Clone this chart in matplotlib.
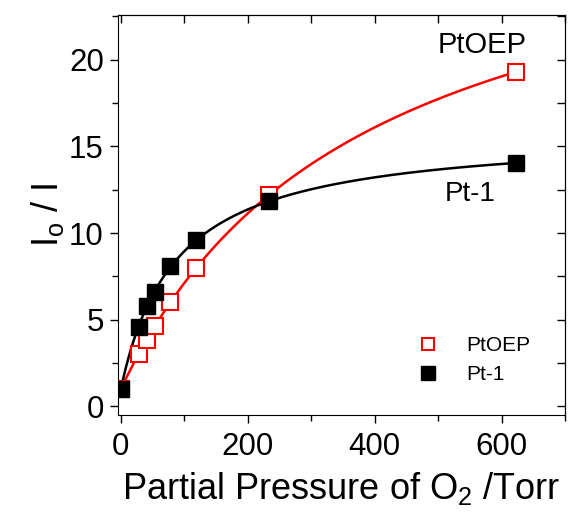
import numpy as np
import matplotlib

matplotlib.use("Agg")
import matplotlib.pyplot as plt
from matplotlib.ticker import MultipleLocator

plt.rcParams["font.family"] = ["Liberation Sans", "DejaVu Sans"]
plt.rcParams["mathtext.fontset"] = "custom"
plt.rcParams["mathtext.rm"] = "Liberation Sans"
plt.rcParams["mathtext.it"] = "Liberation Sans"

pressure = [0, 28, 41, 54, 77, 118, 234, 622]
ptoep = [1.0, 3.0, 3.85, 4.62, 6.02, 7.98, 12.18, 19.29]
pt1 = [1.0, 4.58, 5.79, 6.6, 8.08, 9.58, 11.85, 14.04]


def langmuir_fit(x, y):
    # y - 1 = a x / (1 + b x)  ->  x / (y - 1) = 1/a + (b/a) x
    x = np.asarray(x[1:], float)
    y = np.asarray(y[1:], float)
    slope, icpt = np.polyfit(x, x / (y - 1), 1)
    a, b = 1 / icpt, slope / icpt
    xs = np.linspace(0, max(x), 300)
    return xs, 1 + a * xs / (1 + b * xs)


fig = plt.figure(figsize=(5.68, 5.16), dpi=100)
ax = fig.add_axes([0.2072, 0.1957, 0.7875, 0.7758])

xs, ys = langmuir_fit(pressure, ptoep)
ax.plot(xs, ys, color="red", lw=1.8, zorder=2)
xs, ys = langmuir_fit(pressure, pt1)
ax.plot(xs, ys, color="black", lw=1.8, zorder=2)

ax.plot(pressure, ptoep, ls="none", marker="s", ms=11, mfc="white",
        mec="red", mew=1.5, label="PtOEP", zorder=3)
ax.plot(pressure, pt1, ls="none", marker="s", ms=12, color="black",
        label="Pt-1", zorder=4)

ax.set_xlim(-5, 700)
ax.set_ylim(-0.5, 22.6)
ax.xaxis.set_major_locator(MultipleLocator(200))
ax.xaxis.set_minor_locator(MultipleLocator(100))
ax.yaxis.set_major_locator(MultipleLocator(5))
ax.yaxis.set_minor_locator(MultipleLocator(2.5))
ax.tick_params(which="both", direction="out", labelsize=22.5, width=1, pad=4)
ax.tick_params(axis="x", which="both", pad=6)
ax.tick_params(which="major", length=6)
ax.tick_params(which="minor", length=4)

# mirrored ticks on top/right pointing inwards
top = ax.secondary_xaxis("top")
top.xaxis.set_major_locator(MultipleLocator(100))
top.tick_params(direction="in", length=6, width=1, labeltop=False)
right = ax.secondary_yaxis("right")
right.yaxis.set_major_locator(MultipleLocator(2.5))
right.tick_params(direction="in", length=6, width=1, labelright=False)

ax.set_xlabel("Partial Pressure of O$_2$ /Torr", fontsize=26, labelpad=6)
ax.set_ylabel("I$_o$ / I", fontsize=26, labelpad=2)

ax.text(569, 20.85, "PtOEP", fontsize=21, ha="center", va="center")
ax.text(550, 12.25, "Pt-1", fontsize=20, ha="center", va="center")

ax.legend(loc="center", bbox_to_anchor=(0.785, 0.137), frameon=False,
          fontsize=15, handletextpad=0.8, labelspacing=0.5, markerscale=0.85)

fig.savefig("out.png", dpi=100)
